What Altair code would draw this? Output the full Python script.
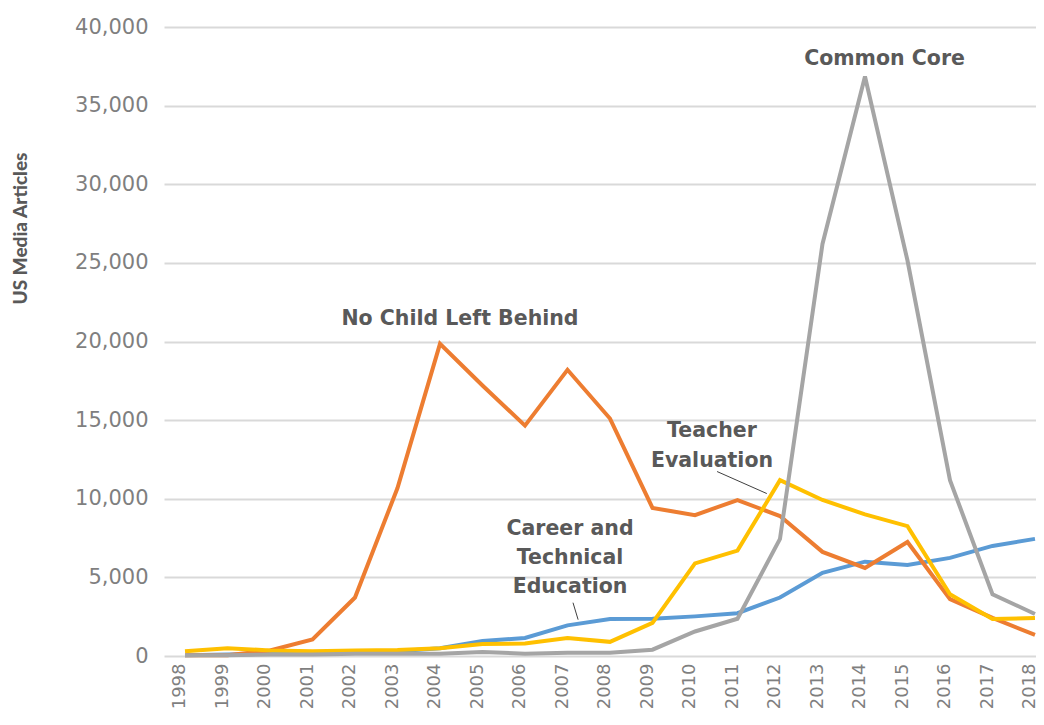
import altair as alt
import pandas as pd

years = list(range(1998, 2019))
cte = [50, 100, 150, 200, 250, 300, 500, 950, 1150, 1950, 2350, 2370, 2520, 2720, 3720, 5290, 6000, 5790, 6240, 7000, 7450]
nclb = [50, 50, 350, 1050, 3720, 10680, 19850, 17200, 14650, 18200, 15100, 9420, 8960, 9920, 8900, 6620, 5600, 7250, 3620, 2420, 1340]
teacher_eval = [300, 500, 350, 300, 350, 380, 500, 760, 800, 1150, 900, 2110, 5890, 6700, 11180, 9920, 9010, 8260, 3930, 2350, 2420]
common_core = [50, 50, 100, 100, 150, 150, 150, 250, 150, 200, 200, 400, 1560, 2370, 7450, 26200, 36850, 25150, 11180, 3930, 2670]

series_names = ["Career and Technical Education", "No Child Left Behind", "Teacher Evaluation", "Common Core"]
series_values = [cte, nclb, teacher_eval, common_core]
series_colors = ["#5B9BD5", "#ED7D31", "#FFC000", "#A5A5A5"]

label_text = ["Common Core", "No Child Left Behind", "Teacher", "Evaluation", "Career and", "Technical", "Education"]
label_year = [2014.46, 2004.47, 2010.4, 2010.4, 2007.06, 2007.06, 2007.06]
label_value = [37940, 21460, 14340, 12430, 8100, 6260, 4410]

leader_year = [2010.52, 2007.13]
leader_year2 = [2011.69, 2007.25]
leader_value = [11730, 3390]
leader_value2 = [10330, 2310]

x_scale = alt.Scale(domain=[1997.506, 2018.024], nice=False, zero=False)
y_scale = alt.Scale(domain=[0, 40000], nice=False)

x_axis = alt.Axis(values=years, format="d", labelAngle=270, labelAlign="right", labelBaseline="alphabetic",
                  labelPadding=7, grid=False, domain=False, ticks=False, title=None,
                  labelFont="DejaVu Sans", labelFontSize=18, labelColor="#7f7f7f",
                  labelOverlap=False)
y_axis = alt.Axis(values=list(range(0, 40001, 5000)), format=",d", grid=True, gridColor="#d9d9d9", gridWidth=2,
                  domain=False, ticks=False, labelPadding=16, labelFont="DejaVu Sans", labelFontSize=21,
                  labelColor="#7f7f7f", title="US Media Articles",
                  titleFont="Lato", titleFontSize=19, titleFontWeight=900,
                  titleColor="#595959", titleAngle=270, titleX=-144, titleY=201,
                  titleAlign="center", titleBaseline="middle")


def X(field):
    return alt.X(field, type="quantitative", scale=x_scale, axis=x_axis)


def Y(field):
    return alt.Y(field, type="quantitative", scale=y_scale, axis=y_axis)


layers = []
for name, vals, col in zip(series_names, series_values, series_colors):
    df = pd.DataFrame({"year": years, "value": vals, "series": name})
    ch = alt.Chart(df).mark_line(strokeWidth=4, color=col).encode(x=X("year"), y=Y("value"))
    layers.append(ch)

lab_df = pd.DataFrame({"t": label_text, "year": label_year, "value": label_value})
labels = alt.Chart(lab_df).mark_text(font="DejaVu Sans", fontSize=20.5, fontWeight="bold", color="#595959",
                                     align="center", baseline="middle").encode(
    x=X("year"), y=Y("value"), text="t:N")

lead_df = pd.DataFrame({"x": leader_year, "x2": leader_year2, "y": leader_value, "y2": leader_value2})
leaders = alt.Chart(lead_df).mark_rule(color="#404040", strokeWidth=1).encode(
    x=X("x"), x2="x2:Q", y=Y("y"), y2="y2:Q")

chart = alt.layer(*layers, leaders, labels).properties(
    width=872, height=629,
    autosize=alt.AutoSizeParams(type="none"),
    padding={"left": 156, "top": 19, "right": 0, "bottom": 53},
).configure_view(stroke=None)

chart.save("out.html", embed_options={"renderer": "svg", "actions": False})
